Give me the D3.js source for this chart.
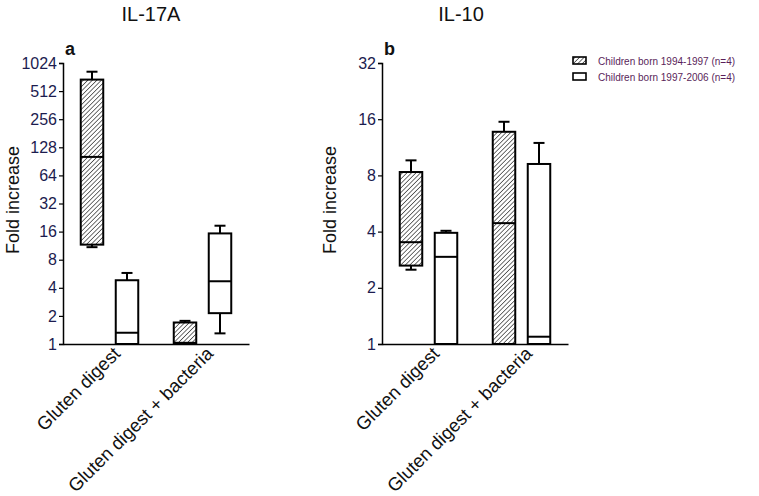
<!DOCTYPE html>
<html>
<head>
<meta charset="utf-8">
<script src="https://cdn.jsdelivr.net/npm/d3@7"></script>
<style>
  html, body { margin: 0; padding: 0; background: #fff; }
  svg { display: block; font-family: Arial, "Liberation Sans", sans-serif; }
</style>
</head>
<body>
<svg id="chart" width="759" height="496"></svg>
<script>
// ---- data ----
const categories = ["Gluten digest", "Gluten digest + bacteria"];
const seriesNames = ["Children born 1994-1997 (n=4)", "Children born 1997-2006 (n=4)"];

// IL-17A: [min, q1, median, q3, max] per category, for each series
const il17Born9497 = [
  [10.9, 11.6, 101, 680, 826],
  [1.0, 1.0, 1.03, 1.70, 1.77]
];
const il17Born9706 = [
  [1.0, 1.0, 1.32, 4.82, 5.77],
  [1.30, 2.14, 4.7, 15.3, 18.5]
];
// IL-10
const il10Born9497 = [
  [2.50, 2.63, 3.51, 8.34, 9.63],
  [1.0, 1.0, 4.44, 13.7, 15.5]
];
const il10Born9706 = [
  [1.0, 1.0, 2.93, 3.94, 4.04],
  [1.0, 1.0, 1.094, 9.21, 11.94]
];

const il17Ticks = [1, 2, 4, 8, 16, 32, 64, 128, 256, 512, 1024];
const il10Ticks = [1, 2, 4, 8, 16, 32];

// ---- drawing ----
const svg = d3.select("#chart");
const defs = svg.append("defs");
const pat = defs.append("pattern")
  .attr("id", "hatch")
  .attr("patternUnits", "userSpaceOnUse")
  .attr("width", 3.2).attr("height", 3.2)
  .attr("patternTransform", "rotate(45)");
pat.append("rect").attr("width", 3.2).attr("height", 3.2).attr("fill", "#fff");
pat.append("line").attr("x1", 0).attr("y1", 0).attr("x2", 0).attr("y2", 3.2)
  .attr("stroke", "#333").attr("stroke-width", 1.4);

const tickColor = "#1c1c4f";

function panel(opts) {
  const { x0, x1, yTop, yBottom, ticks, title, titleX, letter, data, ylabelX } = opts;
  const g = svg.append("g");
  const y = d3.scaleLog().base(2).domain([1, ticks[ticks.length - 1]]).range([yBottom, yTop]);
  const x = d3.scaleBand().domain(categories).range([x0, x1]).paddingInner(0).paddingOuter(0);
  const off = 17.5, bw = 22.5, cap = 11;

  // boxes
  data.forEach((series, si) => {
    series.forEach((d, ci) => {
      const cx = x(categories[ci]) + x.bandwidth() / 2 + (si === 0 ? -off : off);
      const [mn, q1, md, q3, mx] = d;
      const bg = g.append("g");
      if (mx > q3) {
        bg.append("line").attr("x1", cx).attr("x2", cx).attr("y1", y(q3)).attr("y2", y(mx))
          .attr("stroke", "#000").attr("stroke-width", 2);
        bg.append("line").attr("x1", cx - cap / 2).attr("x2", cx + cap / 2).attr("y1", y(mx)).attr("y2", y(mx))
          .attr("stroke", "#000").attr("stroke-width", 2);
      }
      if (mn < q1) {
        bg.append("line").attr("x1", cx).attr("x2", cx).attr("y1", y(q1)).attr("y2", y(mn))
          .attr("stroke", "#000").attr("stroke-width", 2);
        bg.append("line").attr("x1", cx - cap / 2).attr("x2", cx + cap / 2).attr("y1", y(mn)).attr("y2", y(mn))
          .attr("stroke", "#000").attr("stroke-width", 2);
      }
      bg.append("rect")
        .attr("x", cx - bw / 2).attr("width", bw)
        .attr("y", y(q3)).attr("height", y(q1) - y(q3))
        .attr("fill", si === 0 ? "url(#hatch)" : "#fff")
        .attr("stroke", "#000").attr("stroke-width", 2);
      bg.append("line").attr("x1", cx - bw / 2).attr("x2", cx + bw / 2).attr("y1", y(md)).attr("y2", y(md))
        .attr("stroke", "#000").attr("stroke-width", 2);
    });
  });

  // y axis
  const yAxis = d3.axisLeft(y).tickValues(ticks).tickFormat(d3.format("d")).tickSizeOuter(0).tickSize(4).tickPadding(2);
  const ya = g.append("g").attr("transform", `translate(${x0},0)`).call(yAxis);
  ya.select(".domain").attr("stroke", "#000").attr("stroke-width", 1.5);
  ya.selectAll(".tick line").attr("stroke", "#000").attr("stroke-width", 1.2);
  ya.selectAll(".tick text").attr("fill", tickColor).attr("font-size", 16).attr("font-family", "Arial, 'Liberation Sans', sans-serif");

  // x axis
  const xAxis = d3.axisBottom(x).tickSize(0).tickPadding(0);
  const xa = g.append("g").attr("transform", `translate(0,${yBottom})`).call(xAxis);
  xa.select(".domain").attr("stroke", "#000").attr("stroke-width", 1.5);
  xa.selectAll(".tick text")
    .attr("fill", "#111").attr("font-size", 18.5)
    .attr("font-family", "Arial, 'Liberation Sans', sans-serif")
    .attr("text-anchor", "end")
    .attr("dy", "0.75em")
    .attr("transform", "translate(2,1) rotate(-45)");

  // title
  svg.append("text").attr("x", titleX).attr("y", 21).attr("text-anchor", "middle")
    .attr("font-size", 20).attr("fill", "#111").text(title);
  // panel letter
  svg.append("text").attr("x", x0 + 2).attr("y", 55)
    .attr("font-size", 18).attr("font-weight", "bold").attr("fill", "#111").text(letter);
  // y label
  svg.append("text").attr("transform", `translate(${ylabelX},200) rotate(-90)`)
    .attr("text-anchor", "middle").attr("font-size", 18).attr("fill", "#111").text("Fold increase");
}

panel({ x0: 63, x1: 249, yTop: 63, yBottom: 344, ticks: il17Ticks, title: "IL-17A", titleX: 151,
  letter: "a", data: [il17Born9497, il17Born9706], ylabelX: 19 });
panel({ x0: 382, x1: 568, yTop: 63, yBottom: 344, ticks: il10Ticks, title: "IL-10", titleX: 461,
  letter: "b", data: [il10Born9497, il10Born9706], ylabelX: 336 });

// legend
const lg = svg.append("g").attr("transform", "translate(573,0)");
seriesNames.forEach((name, i) => {
  const yy = 61 + i * 16;
  lg.append("rect").attr("x", 0).attr("y", yy - 4).attr("width", 13).attr("height", 7)
    .attr("fill", i === 0 ? "url(#hatch)" : "#fff").attr("stroke", "#000").attr("stroke-width", 1.6);
  lg.append("text").attr("x", 25).attr("y", yy + 3.5).attr("font-size", 10)
    .attr("fill", "#5a1f5a").text(name);
});
</script>
</body>
</html>
